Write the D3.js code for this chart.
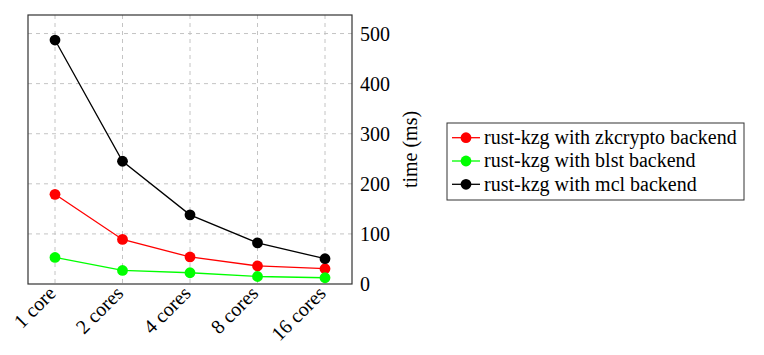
<!DOCTYPE html>
<html>
<head>
<meta charset="utf-8">
<script src="https://cdn.jsdelivr.net/npm/d3@7"></script>
<style>
  html, body { margin: 0; padding: 0; background: #fff; }
  svg { display: block; }
</style>
</head>
<body>
<svg id="chart" width="764" height="355"></svg>
<script>
const categories = ["1 core", "2 cores", "4 cores", "8 cores", "16 cores"];
const zkcrypto = [179, 89, 54, 36, 30.5];
const blst = [53, 27, 22.5, 15, 12.5];
const mcl = [487, 245, 138, 82, 50.5];
const yTicks = [0, 100, 200, 300, 400, 500];
const seriesNames = ["rust-kzg with zkcrypto backend", "rust-kzg with blst backend", "rust-kzg with mcl backend"];
const seriesColors = ["#ff0000", "#00ff00", "#000000"];
const yLabel = "time (ms)";

const FONT = "'Liberation Serif'";
const FS = "20px";

const series = [zkcrypto, blst, mcl].map((v, i) => ({ name: seriesNames[i], color: seriesColors[i], values: v }));

const svg = d3.select("#chart");
const pL = 28, pR = 352, pT = 15, pB = 284;

const x = d3.scalePoint().domain(categories).range([pL, pR]).padding(0.4);
const y = d3.scaleLinear().domain([0, 537]).range([pB, pT]);

// grid
const grid = svg.append("g").attr("stroke", "#c4c4c4").attr("stroke-width", 1).attr("stroke-dasharray", "4,4");
grid.selectAll("line.v").data(categories).join("line")
  .attr("x1", d => x(d)).attr("x2", d => x(d)).attr("y1", pT).attr("y2", pB);
grid.selectAll("line.h").data(yTicks.filter(t => t > 0)).join("line")
  .attr("x1", pL).attr("x2", pR).attr("y1", d => y(d)).attr("y2", d => y(d));

// series
const line = d3.line().x((d, i) => x(categories[i])).y(d => y(d));
series.forEach(s => {
  svg.append("path").datum(s.values).attr("d", line)
    .attr("fill", "none").attr("stroke", s.color).attr("stroke-width", 1.3);
  svg.append("g").selectAll("circle").data(s.values).join("circle")
    .attr("cx", (d, i) => x(categories[i])).attr("cy", d => y(d)).attr("r", 5.4)
    .attr("fill", s.color);
});

// frame
svg.append("rect").attr("x", pL).attr("y", pT).attr("width", pR - pL).attr("height", pB - pT)
  .attr("fill", "none").attr("stroke", "#333").attr("stroke-width", 1.2);

// y axis on right
const yAxis = d3.axisRight(y).tickValues(yTicks).tickSize(0).tickPadding(8);
const ya = svg.append("g").attr("transform", `translate(${pR},0)`).call(yAxis);
ya.select(".domain").remove();
ya.attr("font-family", null).attr("font-size", null);
ya.selectAll("text").style("font-family", FONT).style("font-size", FS).attr("fill", "#000")
  .attr("dy", "0.34em");

// x axis labels
const xAxis = d3.axisBottom(x).tickSize(0).tickPadding(0);
const xa = svg.append("g").attr("transform", `translate(0,${pB})`).call(xAxis);
xa.select(".domain").remove();
xa.attr("font-family", null).attr("font-size", null);
xa.selectAll("text")
  .style("font-family", FONT).style("font-size", FS).attr("fill", "#000")
  .attr("text-anchor", "end")
  .attr("x", 0).attr("y", 0).attr("dy", "0.32em")
  .attr("transform", "translate(-3,6) rotate(-45)");

// y label
svg.append("text").attr("transform", `translate(411,${(pT + pB) / 2}) rotate(-90)`)
  .attr("text-anchor", "middle").attr("dy", "0.32em")
  .style("font-family", FONT).style("font-size", FS).attr("fill", "#000").text(yLabel);

// legend
const lg = svg.append("g").attr("transform", "translate(447,123)");
lg.append("rect").attr("width", 297).attr("height", 77).attr("fill", "#fff").attr("stroke", "#333").attr("stroke-width", 1);
series.forEach((s, i) => {
  const cy = 14.7 + i * 23.3;
  lg.append("line").attr("x1", 5).attr("x2", 33).attr("y1", cy).attr("y2", cy).attr("stroke", s.color).attr("stroke-width", 1.3);
  lg.append("circle").attr("cx", 19).attr("cy", cy).attr("r", 5.4).attr("fill", s.color);
  lg.append("text").attr("x", 37).attr("y", cy).attr("dy", "0.32em")
    .style("font-family", FONT).style("font-size", FS).attr("fill", "#000").text(s.name);
});
</script>
</body>
</html>
